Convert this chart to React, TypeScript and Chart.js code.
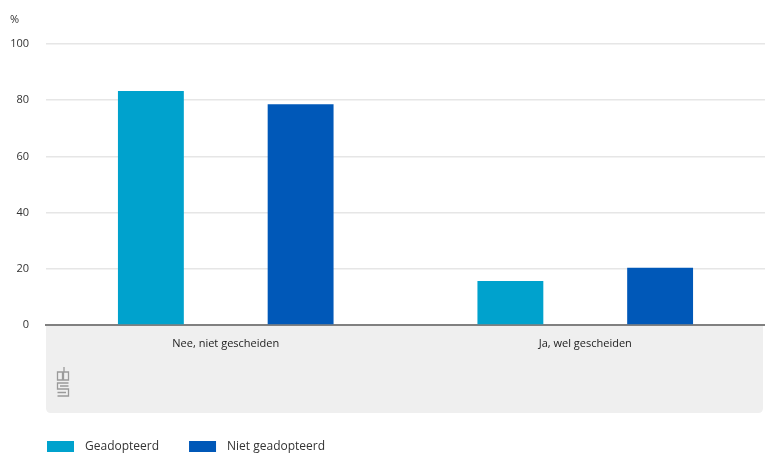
import React, { useEffect, useRef } from "react";
import { Chart, registerables } from "chart.js";

Chart.register(...registerables);

const categories = ["Nee, niet gescheiden", "Ja, wel gescheiden"];
const seriesNames = ["Geadopteerd", "Niet geadopteerd"];
const geadopteerd = [83.3, 15.7];
const nietGeadopteerd = [78.6, 20.4];
const seriesColors = ["#00a2cd", "#0058b8"];
const yTicks = [0, 20, 40, 60, 80, 100];
const unitLabel = "%";

const FONT = "'Open Sans', 'DejaVu Sans', sans-serif";

const decorPlugin = {
  id: "decor",
  beforeDraw(chart: any) {
    const { ctx, chartArea } = chart;
    const x = chart.scales.x;
    const left = chartArea.left;
    const right = chart.width - 2;
    const top = x.top;
    const bottom = x.bottom;
    const r = 5;
    ctx.save();
    ctx.fillStyle = "#efefef";
    ctx.beginPath();
    ctx.moveTo(left, top);
    ctx.lineTo(right, top);
    ctx.lineTo(right, bottom - r);
    ctx.quadraticCurveTo(right, bottom, right - r, bottom);
    ctx.lineTo(left + r, bottom);
    ctx.quadraticCurveTo(left, bottom, left, bottom - r);
    ctx.closePath();
    ctx.fill();

    // CBS logo (simplified)
    ctx.strokeStyle = "#9a9a9a";
    ctx.lineWidth = 1.3;
    const lx = 57, ly = 367;
    ctx.beginPath();
    ctx.moveTo(lx + 7, ly); ctx.lineTo(lx + 7, ly + 5);
    ctx.rect(lx + 0.5, ly + 5, 5, 8);
    ctx.rect(lx + 6.5, ly + 5, 5, 8);
    ctx.moveTo(lx + 11.5, ly + 16); ctx.lineTo(lx + 0.5, ly + 16);
    ctx.lineTo(lx + 0.5, ly + 22); ctx.lineTo(lx + 11.5, ly + 22);
    ctx.lineTo(lx + 11.5, ly + 29); ctx.lineTo(lx + 0.5, ly + 29);
    ctx.moveTo(lx + 3, ly + 19); ctx.lineTo(lx + 11.5, ly + 19);
    ctx.moveTo(lx + 0.5, ly + 25.5); ctx.lineTo(lx + 9, ly + 25.5);
    ctx.stroke();
    ctx.restore();
  },
  afterDraw(chart: any) {
    const { ctx } = chart;
    ctx.save();
    ctx.font = `11px ${FONT}`;
    ctx.fillStyle = "#333";
    ctx.textBaseline = "middle";
    ctx.textAlign = "left";
    ctx.fillText(unitLabel, 10, 20);

    // legend
    let lx = 47;
    const ly = 446;
    chart.data.datasets.forEach((ds: any) => {
      ctx.fillStyle = ds.backgroundColor;
      ctx.fillRect(lx, ly - 5, 27, 11);
      ctx.fillStyle = "#333";
      ctx.font = `12px ${FONT}`;
      ctx.fillText(ds.label, lx + 38, ly + 1);
      lx += 38 + ctx.measureText(ds.label).width + 30;
    });
    ctx.restore();
  },
};

export default function App() {
  const ref = useRef<HTMLCanvasElement>(null);
  useEffect(() => {
    const chart = new Chart(ref.current!, {
      type: "bar",
      data: {
        labels: categories,
        datasets: [
          { label: seriesNames[0], data: geadopteerd, backgroundColor: seriesColors[0] },
          { label: seriesNames[1], data: nietGeadopteerd, backgroundColor: seriesColors[1] },
        ],
      },
      options: {
        animation: false,
        responsive: false,
        maintainAspectRatio: false,
        layout: { padding: { top: 44, right: 0, bottom: 42, left: 0 } },
        datasets: { bar: { categoryPercentage: 0.833, barPercentage: 0.44 } },
        plugins: { legend: { display: false }, tooltip: { enabled: false } },
        scales: {
          x: {
            grid: { display: false, drawTicks: false },
            border: { display: true, color: "#808080", width: 2 },
            ticks: { color: "#222", font: { family: FONT, size: 11 }, padding: 12 },
            afterFit: (s: any) => { s.height = 88; },
          },
          y: {
            min: 0,
            max: 100,
            afterBuildTicks: (s: any) => { s.ticks = yTicks.map((v) => ({ value: v })); },
            grid: { color: "#e6e6e6", drawTicks: false, lineWidth: 1.5 },
            border: { display: false },
            ticks: { color: "#333", font: { family: FONT, size: 11 }, padding: 17 },
            afterFit: (s: any) => { s.width = 46; },
          },
        },
      },
      plugins: [decorPlugin],
    });
    return () => chart.destroy();
  }, []);
  return (
    <div style={{ position: "fixed", left: 0, top: 0, width: 765, height: 455, background: "#fff" }}>
      <canvas ref={ref} width={765} height={455} style={{ display: "block" }} />
    </div>
  );
}
